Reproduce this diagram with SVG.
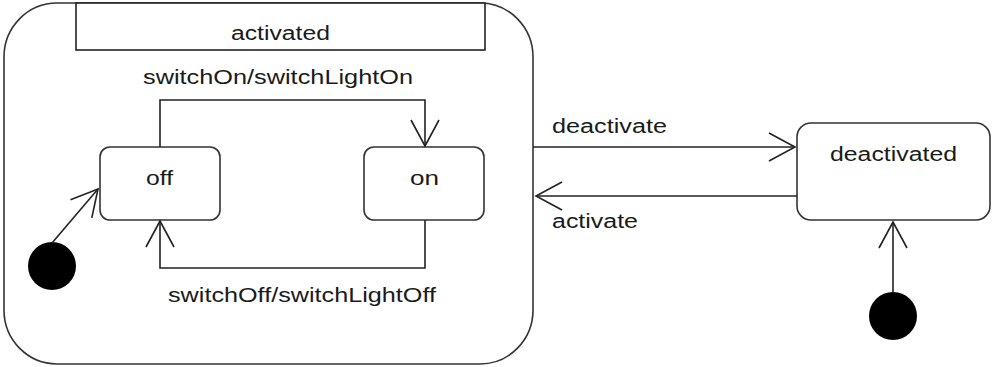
<svg xmlns="http://www.w3.org/2000/svg" width="992" height="367" viewBox="0 0 992 367">
  <style>
    .bg { fill: #ffffff; }
    .state { fill: #ffffff; stroke: #333333; stroke-width: 1.6; }
    .title { fill: #ffffff; stroke: #222222; stroke-width: 1.6; }
    .init { fill: #000000; }
    .edge { fill: none; stroke: #222222; stroke-width: 1.6; }
    .lbl { font-family: "Liberation Sans", Arial, sans-serif; font-size: 20px; fill: #1a1a1a; }
  </style>
  <defs>
    <marker id="open-arrow" viewBox="-30 -17 34 34" refX="0" refY="0" markerWidth="34" markerHeight="34" markerUnits="userSpaceOnUse" orient="auto">
      <path d="M-26,-14 L0,0 L-26,14" fill="none" stroke="#222222" stroke-width="1.6"/>
    </marker>
  </defs>
  <rect class="bg" x="0" y="0" width="992" height="367"/>

  <!-- composite state: activated -->
  <g id="activated">
    <rect class="state" x="4" y="3" width="529" height="361" rx="53" ry="54"/>
    <rect class="title" x="76" y="3" width="409" height="47"/>
    <text class="lbl" x="231" y="40" textLength="99" lengthAdjust="spacingAndGlyphs">activated</text>
  </g>

  <g id="init-activated">
    <circle class="init" cx="52" cy="266" r="24"/>
  </g>

  <g id="off">
    <rect class="state" x="100" y="147" width="120" height="73" rx="10"/>
    <text class="lbl" x="146" y="185" textLength="27" lengthAdjust="spacingAndGlyphs">off</text>
  </g>

  <g id="on">
    <rect class="state" x="364" y="147" width="120" height="73" rx="10"/>
    <text class="lbl" x="410" y="185" textLength="29" lengthAdjust="spacingAndGlyphs">on</text>
  </g>

  <g id="deactivated">
    <rect class="state" x="797" y="123" width="193" height="97" rx="14"/>
    <text class="lbl" x="830" y="161" textLength="127" lengthAdjust="spacingAndGlyphs">deactivated</text>
  </g>

  <g id="init-deactivated">
    <circle class="init" cx="893" cy="316" r="24"/>
  </g>

  <!-- transitions -->
  <g id="connectors">
    <path class="edge" d="M52,243 L98,189" marker-end="url(#open-arrow)"/>
    <path class="edge" d="M160,147 V100 H425 V146" marker-end="url(#open-arrow)"/>
    <path class="edge" d="M425,220 V268 H160 V221" marker-end="url(#open-arrow)"/>
    <path class="edge" d="M533,147 H795" marker-end="url(#open-arrow)"/>
    <path class="edge" d="M797,196 H536" marker-end="url(#open-arrow)"/>
    <path class="edge" d="M893,292 V222" marker-end="url(#open-arrow)"/>

    <text class="lbl" x="143" y="84" textLength="270" lengthAdjust="spacingAndGlyphs">switchOn/switchLightOn</text>
    <text class="lbl" x="168" y="302" textLength="268" lengthAdjust="spacingAndGlyphs">switchOff/switchLightOff</text>
    <text class="lbl" x="552" y="133" textLength="115" lengthAdjust="spacingAndGlyphs">deactivate</text>
    <text class="lbl" x="552" y="228" textLength="86" lengthAdjust="spacingAndGlyphs">activate</text>
  </g>
</svg>
